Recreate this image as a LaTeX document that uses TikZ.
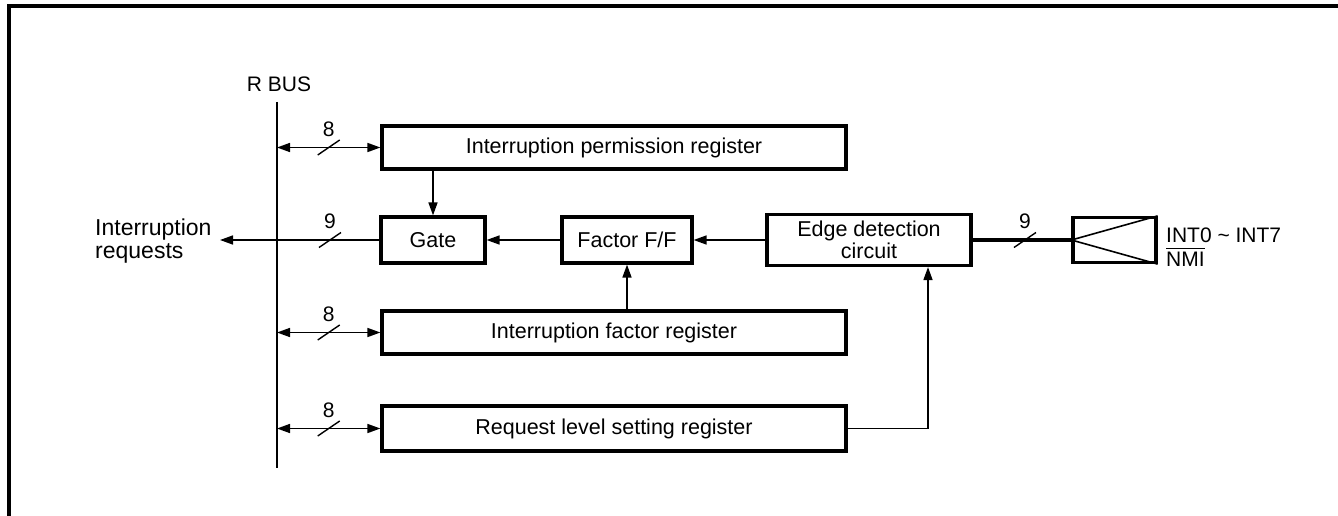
\documentclass[tikz,border=0pt]{standalone}
\usepackage{fontspec}
\setmainfont{Liberation Sans}
\usetikzlibrary{arrows.meta,calc}
\newcommand{\ovl}[1]{{\setbox0\hbox{#1}\rlap{\rule[\dimexpr\ht0+2.5pt\relax]{\wd0}{1.3pt}}#1}}
\begin{document}
\begin{tikzpicture}[x=1pt,y=-1pt,
  box/.style={draw,line width=3.2pt,inner sep=0pt,font=\fontsize{21.5}{22}\selectfont,align=center},
  conn/.style={line width=1.6pt},
  tip/.style={-{Triangle[length=13pt,width=9pt]}},
  dtip/.style={{Triangle[length=13pt,width=9pt]}-{Triangle[length=13pt,width=9pt]}},
  lbl/.style={inner sep=0pt,font=\fontsize{21}{24}\selectfont},
  num/.style={inner sep=0pt,font=\fontsize{21}{22}\selectfont}]
\useasboundingbox (0,0) rectangle (1338,516);
% frame
\draw[line width=3.4pt] (9,516) -- (9,6) -- (1338,6);
% bus
\coordinate (bt) at (277,102);
\coordinate (bb) at (277,468);
\node[lbl] (rbus) at (279,84) {R BUS};
\draw[line width=1.6pt] (bt) -- (bb);
% boxes
\node[box,minimum width=464,minimum height=43] (ipr) at (614,147.5) {Interruption permission register};
\node[box,minimum width=104,minimum height=46] (gate) at (433,240) {Gate};
\node[box,minimum width=130,minimum height=46] (ff) at (627,240) {Factor F/F};
\node[box,minimum width=204,minimum height=51] (edge) at (869,240) {Edge detection\\circuit};
\node[box,minimum width=83,minimum height=45] (inp) at (1114.5,240) {};
\node[box,minimum width=464,minimum height=43] (ifr) at (614,332.5) {Interruption factor register};
\node[box,minimum width=464,minimum height=45] (rls) at (614,428.5) {Request level setting register};
% input box diagonals
\draw[line width=1.6pt] (inp.west) -- (inp.north east) (inp.west) -- (inp.south east);
\node[lbl,anchor=west,align=left] (intl) at (1166,247) {INT0 \textasciitilde{} INT7\\\ovl{NMI}};
% interruption requests
\coordinate (req) at (220,240);
\node[anchor=west,align=left,inner sep=0pt,font=\fontsize{23}{23}\selectfont] (reql) at (95,241) {Interruption\\requests};
% bus connections
\draw[conn,dtip] (ipr.west -| bt) -- (ipr.west) coordinate[pos=.5] (s1);
\draw[conn,dtip] (ifr.west -| bt) -- (ifr.west) coordinate[pos=.5] (s3);
\draw[conn,dtip] (rls.west -| bt) -- (rls.west) coordinate[pos=.5] (s4);
\draw[conn,tip] (gate.west) -- (req) coordinate[pos=.31] (s2);
\draw[line width=3.2pt] (edge.east) -- (inp.west) coordinate[pos=.53] (s5);
\foreach \s/\n in {s1/8,s2/9,s3/8,s4/8,s5/9}{
  \draw[line width=1.4pt] ([shift={(-11,7.5)}]\s) -- ([shift={(11,-7.5)}]\s);
  \node[num] at ([yshift=18.5pt]\s) {\n};
}
% internal arrows
\draw[conn,tip] (ipr.south -| gate.north) -- (gate.north);
\draw[conn,tip] (ff.west) -- (gate.east);
\draw[conn,tip] (edge.west) -- (ff.east);
\draw[conn,tip] (ifr.north -| ff.south) -- (ff.south);
\draw[conn,tip] (rls.east) -| ([xshift=59pt]edge.south);
\end{tikzpicture}
\end{document}
